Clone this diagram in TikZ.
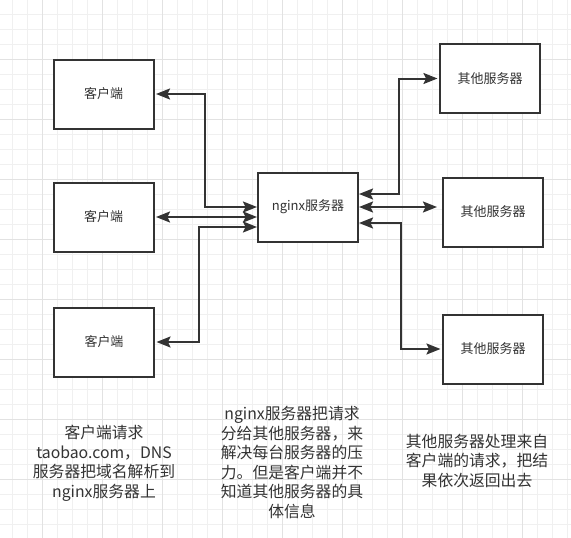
\documentclass[tikz,border=0pt]{standalone}
\usepackage{fontspec}
\setmainfont{Noto Sans CJK SC}
\usepackage{xcolor}
\usetikzlibrary{arrows.meta,positioning,calc}

\definecolor{ink}{HTML}{333333}
\definecolor{gridminor}{HTML}{F0F0F0}
\definecolor{gridmajor}{HTML}{E2E2E2}

\begin{document}
\begin{tikzpicture}[
    x=1pt, y=-1pt,
    box/.style={draw=ink, line width=2pt, fill=white, minimum width=100pt, minimum height=69pt, inner sep=0pt, text=ink, font=\fontsize{13}{15.6}\selectfont},
    note/.style={text=ink, align=center, inner sep=0pt, font=\fontsize{15.8}{19.5}\selectfont},
    conn/.style={{Stealth[length=14pt,width=11pt,inset=2.5pt]}-{Stealth[length=14pt,width=11pt,inset=2.5pt]}, line width=2pt, draw=ink},
    minorgrid/.style={draw=gridminor, line width=1pt},
    majorgrid/.style={draw=gridmajor, line width=1pt}
]
\useasboundingbox (0,0) rectangle (571,538);
\fill[white] (0,0) rectangle (571,538);

% --- background grid ---
\foreach \gx in {12.7,27.7,...,571} \draw[minorgrid] (\gx,0) -- (\gx,538);
\foreach \gy in {14.3,29.3,...,538} \draw[minorgrid] (0,\gy) -- (571,\gy);
\foreach \gx in {42.7,102.7,...,571} \draw[majorgrid] (\gx,0) -- (\gx,538);
\foreach \gy in {59.3,119.3,...,538} \draw[majorgrid] (0,\gy) -- (571,\gy);

% --- Left column: clients ---
\node[box] (client1) at (103.5, 94)  {客户端};
\node[box] (client2) at (103.5, 217) {客户端};
\node[box] (client3) at (104, 342)   {客户端};

% --- Center: nginx ---
\node[box] (nginx) at (308, 207) {nginx服务器};

% --- Right column: other servers ---
\node[box] (server1) at (490, 78.5) {其他服务器};
\node[box] (server2) at (493, 212)  {其他服务器};
\node[box] (server3) at (493, 349)  {其他服务器};

% === Connections, left side ===
\draw[conn, shorten >=1.5pt] (nginx.west) -- ++(-52,0) |- (client1.east);
\draw[conn, shorten <=1.5pt] (client2.east) -- ([yshift=-10pt]nginx.west);
\draw[conn, shorten >=1.5pt] ([yshift=-20pt]nginx.west) -- ++(-58,0) |- (client3.east);

% === Connections, right side ===
\draw[conn, shorten >=1.5pt] ([yshift=13pt]nginx.east) -- ++(40,0) |- (server1.west);
\draw[conn, shorten >=5pt] (nginx.east) -- (nginx.east -| server2.west);
\draw[conn, shorten >=1.5pt] ([yshift=-16pt]nginx.east) -- ++(42,0) |- (server3.west);

% === Notes ===
\node[note] (note1) at (104, 463.5) {客户端请求\\taobao.com，DNS\\服务器把域名解析到\\nginx服务器上};
\node[note] (note2) at (292, 462.5) {nginx服务器把请求\\分给其他服务器，来\\解决每台服务器的压\\力。但是客户端并不\\知道其他服务器的具\\体信息};
\node[note] (note3) at (477, 461) {其他服务器处理来自\\客户端的请求，把结\\果依次返回出去};

\end{tikzpicture}
\end{document}
